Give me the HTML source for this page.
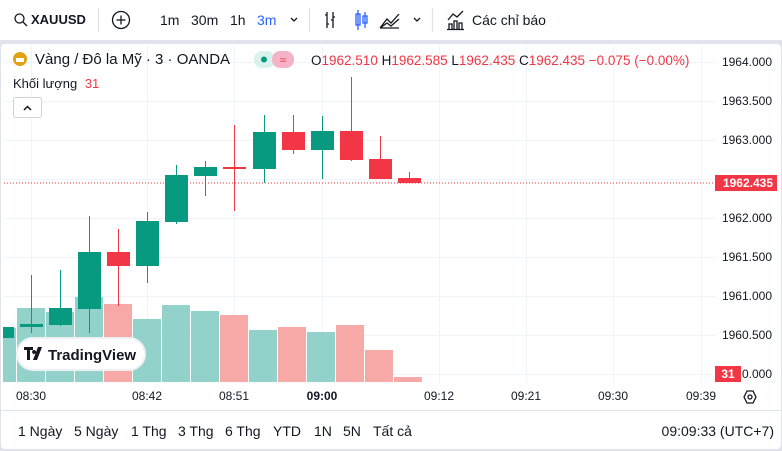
<!DOCTYPE html>
<html><head><meta charset="utf-8"><style>
body{margin:0;width:782px;height:451px;background:#e0e3eb;font-family:"Liberation Sans","Noto Sans CJK SC",sans-serif;overflow:hidden;position:relative}
.tb{position:absolute;left:0;top:0;width:782px;height:40px;background:#fff;font-size:14px;color:#131722}
.tb span{position:absolute;top:12px}
.panel{position:absolute;left:1px;top:44px;width:780px;height:405px;background:#fff;border-radius:4px}
svg text{font-family:"Liberation Sans",sans-serif}
</style></head><body>
<div class="tb">
<span style="left:31px;font-weight:bold;font-size:13px">XAUUSD</span>
<span style="left:160px">1m</span><span style="left:191px">30m</span><span style="left:230px">1h</span><span style="left:257px;color:#2962ff">3m</span>
<span style="left:472px">Các chỉ báo</span>
</div>
<svg width="782" height="40" style="position:absolute;left:0;top:0" fill="none" stroke="#131722" stroke-width="1.3">
<circle cx="19.5" cy="18.5" r="4.5"/><line x1="23" y1="22" x2="27" y2="26"/>
<circle cx="121" cy="20" r="8.5"/><line x1="121" y1="15.5" x2="121" y2="24.5"/><line x1="116.5" y1="20" x2="125.5" y2="20"/>
<line x1="98.5" y1="8" x2="98.5" y2="32" stroke="#e0e3eb"/>
<polyline points="291,18 294,21 297,18"/>
<line x1="309.5" y1="8" x2="309.5" y2="32" stroke="#e0e3eb"/>
<path d="M221,12v16M219,15h2M221,24h2M227,12v16M225,20h2M227,17h2" transform="translate(106,0)"/>
<g stroke="#2962ff"><line x1="240" y1="10" x2="240" y2="30" transform="translate(118,0)"/><rect x="356" y="14" width="4" height="11"/><line x1="365" y1="12" x2="365" y2="28"/><rect x="363" y="16" width="4" height="7"/></g>
<path d="M380,28 L387,19 L391,23 L399,14 M380,28 L387,23 L391,26 L399,19 M380,28h19"/>
<polyline points="414,18 417,21 420,18"/>
<line x1="432.5" y1="8" x2="432.5" y2="32" stroke="#e0e3eb"/>
<path d="M448,20 L453,14 L457,17 L463,11 M449,29v-5h3v5M454,29v-8h3v8M459,29v-6h3v6M447,29.5h17"/>
</svg>
<div class="panel"></div>
<svg width="782" height="451" style="position:absolute;left:0;top:0">
<g stroke="#f0f3fa" stroke-width="1">
<line x1="4" x2="715" y1="62.5" y2="62.5"/><line x1="4" x2="715" y1="101.5" y2="101.5"/><line x1="4" x2="715" y1="140.5" y2="140.5"/><line x1="4" x2="715" y1="179.5" y2="179.5"/><line x1="4" x2="715" y1="218.5" y2="218.5"/><line x1="4" x2="715" y1="257.5" y2="257.5"/><line x1="4" x2="715" y1="296.5" y2="296.5"/><line x1="4" x2="715" y1="335.5" y2="335.5"/><line x1="4" x2="715" y1="374.5" y2="374.5"/>
<line x1="31.5" x2="31.5" y1="45" y2="382"/><line x1="147.5" x2="147.5" y1="45" y2="382"/><line x1="234.5" x2="234.5" y1="45" y2="382"/><line x1="322.5" x2="322.5" y1="45" y2="382"/><line x1="439.5" x2="439.5" y1="45" y2="382"/><line x1="526.5" x2="526.5" y1="45" y2="382"/><line x1="613.5" x2="613.5" y1="45" y2="382"/><line x1="701.5" x2="701.5" y1="45" y2="382"/>
</g>
<g>
<rect x="3" y="328" width="13" height="54" fill="#92d2cb"/>
<rect x="17" y="308" width="28" height="74" fill="#92d2cb"/>
<rect x="46" y="312" width="28" height="70" fill="#92d2cb"/>
<rect x="75" y="297" width="28" height="85" fill="#92d2cb"/>
<rect x="104" y="304" width="28" height="78" fill="#f7a9a7"/>
<rect x="133" y="319" width="28" height="63" fill="#92d2cb"/>
<rect x="162" y="305" width="28" height="77" fill="#92d2cb"/>
<rect x="191" y="311" width="28" height="71" fill="#92d2cb"/>
<rect x="220" y="315" width="28" height="67" fill="#f7a9a7"/>
<rect x="249" y="330" width="28" height="52" fill="#92d2cb"/>
<rect x="278" y="327" width="28" height="55" fill="#f7a9a7"/>
<rect x="307" y="332" width="28" height="50" fill="#92d2cb"/>
<rect x="336" y="325" width="28" height="57" fill="#f7a9a7"/>
<rect x="365" y="350" width="28" height="32" fill="#f7a9a7"/>
<rect x="394" y="377" width="28" height="5" fill="#f7a9a7"/>
</g>
<line x1="4" x2="715" y1="183" y2="183" stroke="#f23645" stroke-dasharray="1,2"/>
<g fill="#089981" stroke="#089981">
<rect x="3" y="327" width="11" height="11" stroke="none"/>
<line x1="31.5" x2="31.5" y1="275" y2="333"/><rect x="20" y="324" width="23" height="3" stroke="none"/>
<line x1="60.5" x2="60.5" y1="270" y2="326"/><rect x="49" y="308" width="23" height="17" stroke="none"/>
<line x1="89.5" x2="89.5" y1="216" y2="333"/><rect x="78" y="252" width="23" height="57" stroke="none"/>
<line x1="147.5" x2="147.5" y1="212" y2="283"/><rect x="136" y="221" width="23" height="45" stroke="none"/>
<line x1="176.5" x2="176.5" y1="165" y2="224"/><rect x="165" y="175" width="23" height="47" stroke="none"/>
<line x1="205.5" x2="205.5" y1="161" y2="196"/><rect x="194" y="167" width="23" height="9" stroke="none"/>
<line x1="264.5" x2="264.5" y1="115" y2="183"/><rect x="253" y="132" width="23" height="37" stroke="none"/>
<line x1="322.5" x2="322.5" y1="116" y2="179"/><rect x="311" y="131" width="23" height="19" stroke="none"/>
</g>
<g fill="#f23645" stroke="#f23645">
<line x1="118.5" x2="118.5" y1="229" y2="306"/><rect x="107" y="252" width="23" height="14" stroke="none"/>
<line x1="234.5" x2="234.5" y1="125" y2="211"/><rect x="223" y="167" width="23" height="2" stroke="none"/>
<line x1="293.5" x2="293.5" y1="115" y2="154"/><rect x="282" y="132" width="23" height="18" stroke="none"/>
<line x1="351.5" x2="351.5" y1="77" y2="161"/><rect x="340" y="131" width="23" height="29" stroke="none"/>
<line x1="380.5" x2="380.5" y1="136" y2="179"/><rect x="369" y="159" width="23" height="20" stroke="none"/>
<line x1="409.5" x2="409.5" y1="172" y2="183"/><rect x="398" y="178" width="23" height="5" stroke="none"/>
</g>
<g font-size="12" fill="#131722" text-anchor="end">
<text x="772" y="66">1964.000</text><text x="772" y="105">1963.500</text><text x="772" y="144">1963.000</text><text x="772" y="222">1962.000</text><text x="772" y="261">1961.500</text><text x="772" y="300">1961.000</text><text x="772" y="339">1960.500</text><text x="772" y="378">0.000</text>
</g>
<rect x="715" y="175" width="62" height="16" fill="#f23645"/>
<text x="773" y="187" font-size="12" font-weight="bold" fill="#fff" text-anchor="end">1962.435</text>
<rect x="715" y="366" width="26" height="16" fill="#f23645"/>
<text x="728" y="378" font-size="12" font-weight="bold" fill="#fff" text-anchor="middle">31</text>
<g font-size="12" fill="#131722" text-anchor="middle">
<text x="31" y="400">08:30</text><text x="147" y="400">08:42</text><text x="234" y="400">08:51</text><text x="322" y="400" font-weight="bold">09:00</text><text x="439" y="400">09:12</text><text x="526" y="400">09:21</text><text x="613" y="400">09:30</text><text x="701" y="400">09:39</text>
</g>
<polygon points="744,397 747,391 753,391 756,397 753,403 747,403" fill="none" stroke="#131722" stroke-width="1.3"/><circle cx="750" cy="397" r="2" fill="none" stroke="#131722" stroke-width="1.3"/>
<line x1="1" x2="781" y1="410.5" y2="410.5" stroke="#e0e3eb"/>
<g font-size="14" fill="#131722">
<text x="18" y="436">1 Ngày</text><text x="74" y="436">5 Ngày</text><text x="131" y="436">1 Thg</text><text x="178" y="436">3 Thg</text><text x="225" y="436">6 Thg</text><text x="273" y="436">YTD</text><text x="314" y="436">1N</text><text x="343" y="436">5N</text><text x="373" y="436">Tất cả</text>
<text x="774" y="436" text-anchor="end">09:09:33 (UTC+7)</text>
</g>
<rect x="17" y="338" width="128" height="32" rx="16" fill="#fff" stroke="#eef0f3" stroke-width="2"/>
<path d="M24,347h9v3h-3v10h-3v-10h-3z M34,350a2,2 0 1,0 0.1,0 M38,347h4l-5,13h-4z" fill="#131722"/>
<text x="48" y="360" font-size="15" font-weight="bold" fill="#131722">TradingView</text>
<circle cx="20" cy="59" r="7" fill="#e3a114"/>
<rect x="16" y="58" width="8" height="4" fill="#fff"/>
<text x="35" y="64" font-size="15" fill="#131722">Vàng / Đô la Mỹ · 3 · OANDA</text>
<rect x="254" y="51" width="21" height="17" rx="8" fill="#daf2ee"/><rect x="272" y="51" width="22" height="17" rx="8" fill="#f6b3c8"/>
<circle cx="264" cy="59.5" r="3" fill="#089981"/><text x="283" y="64" font-size="12" fill="#f23645" text-anchor="middle">≈</text>
<text x="311" y="65" font-size="13.5" fill="#131722">O<tspan fill="#f23645">1962.510</tspan> H<tspan fill="#f23645">1962.585</tspan> L<tspan fill="#f23645">1962.435</tspan> C<tspan fill="#f23645">1962.435</tspan><tspan fill="#f23645"> −0.075 (−0.00%)</tspan></text>
<text x="13" y="88" font-size="13" fill="#131722">Khối lượng <tspan fill="#f23645" dx="4">31</tspan></text>
<rect x="13.5" y="97.5" width="28" height="20" rx="2" fill="#fff" stroke="#d1d4dc"/>
<polyline points="24,110 27.5,106.5 31,110" fill="none" stroke="#131722" stroke-width="1.5"/>
</svg>
</body></html>
